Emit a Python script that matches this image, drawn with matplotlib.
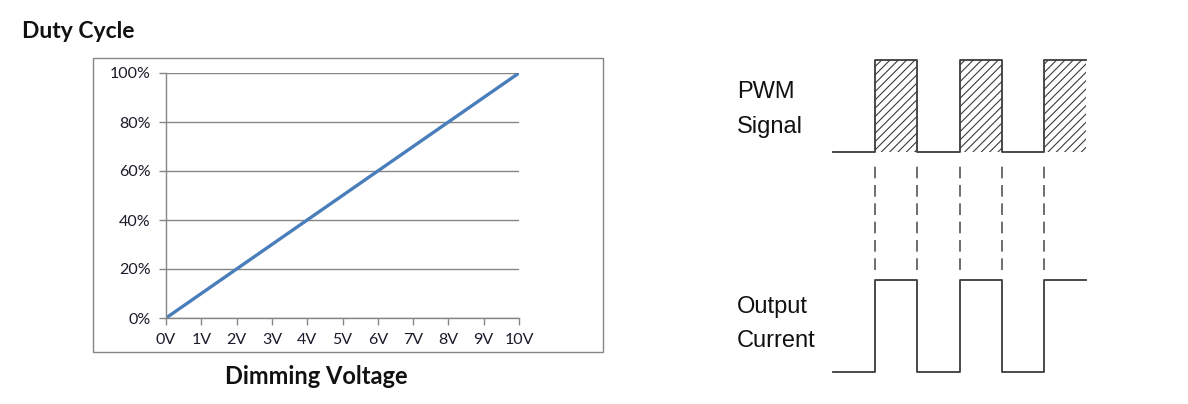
import matplotlib.pyplot as plt
from matplotlib.patches import Rectangle

W, H = 1188, 404

# =========================
# DATA
# =========================
voltage = [0, 1, 2, 3, 4, 5, 6, 7, 8, 9, 10]
duty = [0, 10, 20, 30, 40, 50, 60, 70, 80, 90, 100]
x_labels = ["0V", "1V", "2V", "3V", "4V", "5V", "6V", "7V", "8V", "9V", "10V"]
y_ticks = [0, 20, 40, 60, 80, 100]
y_labels = ["0%", "20%", "40%", "60%", "80%", "100%"]

# timing diagram: switching instants (in half periods) and levels
edges = [1, 2, 3, 4, 5]
t_end = 6
pwm_high, pwm_low = 1.0, 0.705
cur_high, cur_low = 0.295, 0.0
dash_top, dash_bottom = 0.679, 0.327

GRID = "#868686"
BLUE = "#4A7EBB"
INK = "#3c3c3c"


def px_box(x0, y0, x1, y1):
    # pixel box (top-left origin) -> figure fraction [l, b, w, h]
    return [x0 / W, 1 - y1 / H, (x1 - x0) / W, (y1 - y0) / H]


fig = plt.figure(figsize=(W / 100, H / 100), dpi=100)

# =========================
# DUTY CYCLE CHART
# =========================
fig.patches.append(Rectangle((93 / W, 1 - 352 / H), 510 / W, 294 / H,
                             transform=fig.transFigure, fill=False,
                             edgecolor=GRID, linewidth=1.0))

ax = fig.add_axes(px_box(166, 73, 519, 318))
ax.plot(voltage, duty, color=BLUE, linewidth=2.4, solid_capstyle="butt")
ax.set_xlim(0, 10)
ax.set_ylim(0, 100)
ax.set_xticks(voltage)
ax.set_xticklabels(x_labels)
ax.set_yticks(y_ticks)
ax.set_yticklabels(y_labels)
ax.grid(axis="y", color=GRID, linewidth=1.0)
ax.set_axisbelow(True)
for s in ["top", "right"]:
    ax.spines[s].set_visible(False)
for s in ["left", "bottom"]:
    ax.spines[s].set_color(GRID)
    ax.spines[s].set_linewidth(1.0)
ax.tick_params(axis="both", color=GRID, length=5, width=1.0,
               labelsize=11.5, labelcolor="#1a1a2a", pad=6)
for lab in ax.get_xticklabels() + ax.get_yticklabels():
    lab.set_family("Lato")

fig.text(22 / W, 1 - 31 / H, "Duty Cycle", fontsize=16.5, fontweight="bold",
         family="Lato", ha="left", va="center", color="#111111")
fig.text(316 / W, 1 - 377 / H, "Dimming Voltage", fontsize=17, fontweight="bold",
         family="Lato", ha="center", va="center", color="#111111")

# =========================
# PWM / OUTPUT DIAGRAM
# =========================
ad = fig.add_axes(px_box(833, 60, 1086, 372))
ad.set_xlim(0, t_end)
ad.set_ylim(0, 1)
ad.axis("off")

# build step waveforms from the edges
t = [0]
pwm = [pwm_low]
cur = [cur_low]
level = 0
for e in edges:
    t += [e, e]
    a = [pwm_low, pwm_high][level]
    b = [pwm_low, pwm_high][1 - level]
    pwm += [a, b]
    c = [cur_low, cur_high][level]
    d = [cur_low, cur_high][1 - level]
    cur += [c, d]
    level = 1 - level
t.append(t_end)
pwm.append(pwm[-1])
cur.append(cur[-1])

plt.rcParams["hatch.linewidth"] = 0.8
plt.rcParams["hatch.color"] = INK
ad.fill_between(t, pwm_low, pwm, where=[p > pwm_low for p in pwm],
                facecolor="none", edgecolor=INK, hatch="////", linewidth=0)
ad.plot(t, pwm, color=INK, linewidth=1.3, clip_on=False)
ad.plot(t, cur, color=INK, linewidth=1.3, clip_on=False)
for e in edges:
    ad.plot([e, e], [dash_bottom, dash_top], color="#555555", linewidth=1.2,
            dashes=(7, 4))

for txt, yp in [("PWM", 92), ("Signal", 127), ("Output", 307), ("Current", 341)]:
    fig.text(737 / W, 1 - yp / H, txt, fontsize=17, family="Liberation Sans",
             ha="left", va="center", color="#111111")

fig.savefig("out.png", dpi=100)
